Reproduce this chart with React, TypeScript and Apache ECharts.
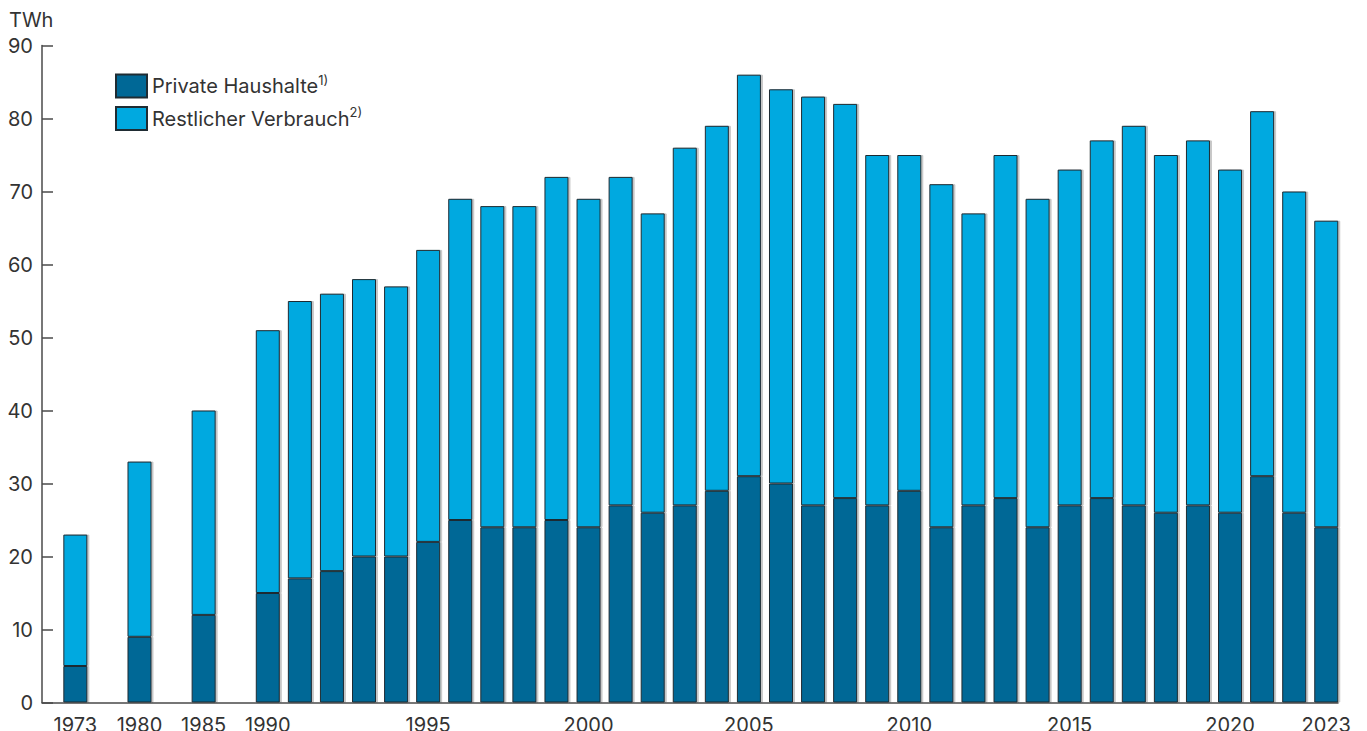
import React, { useEffect, useRef } from "react";
import * as echarts from "echarts";

// Stromverbrauch in TWh: private Haushalte und restlicher Verbrauch
const years = [
  "1973", "1980", "1985",
  "1990", "1991", "1992", "1993", "1994", "1995", "1996", "1997", "1998", "1999",
  "2000", "2001", "2002", "2003", "2004", "2005", "2006", "2007", "2008", "2009",
  "2010", "2011", "2012", "2013", "2014", "2015", "2016", "2017", "2018", "2019",
  "2020", "2021", "2022", "2023",
];
const privateHouseholds = [
  5, 9, 12,
  15, 17, 18, 20, 20, 22, 25, 24, 24, 25,
  24, 27, 26, 27, 29, 31, 30, 27, 28, 27,
  29, 24, 27, 28, 24, 27, 28, 27, 26, 27,
  26, 31, 26, 24,
];
const remainingConsumption = [
  18, 24, 28,
  36, 38, 38, 38, 37, 40, 44, 44, 44, 47,
  45, 45, 41, 49, 50, 55, 54, 56, 54, 48,
  46, 47, 40, 47, 45, 46, 49, 52, 49, 50,
  47, 50, 44, 42,
];
// the early years lie several years apart: an empty slot follows each of them
const spacedYears = ["1973", "1980", "1985"];
const xTickLabels = ["1973", "1980", "1985", "1990", "1995", "2000", "2005", "2010", "2015", "2020", "2023"];
const yTicks = { min: 0, max: 90, interval: 10 };
const seriesNames = ["Private Haushalte", "Restlicher Verbrauch"];
const footnotes = ["1)", "2)"];

const FONT = "Inter, 'Noto Sans', sans-serif";
const FS = 20;
const TEXT = "#333333";
const AXIS = "#4a4a4a";
const DARK = "#006896";
const LIGHT = "#00a9e0";

function buildSlots() {
  const categories: string[] = [];
  const priv: (number | null)[] = [];
  const rest: (number | null)[] = [];
  years.forEach((y, i) => {
    categories.push(y);
    priv.push(privateHouseholds[i]);
    rest.push(remainingConsumption[i]);
    if (spacedYears.includes(y)) {
      categories.push("gap-" + y);
      priv.push(null);
      rest.push(null);
    }
  });
  return { categories, priv, rest };
}

export default function App() {
  const ref = useRef<HTMLDivElement>(null);

  useEffect(() => {
    if (!ref.current) return;
    const chart = echarts.init(ref.current, undefined, { renderer: "svg" });
    const { categories, priv, rest } = buildSlots();

    const barStyle = (color: string) => ({
      color,
      borderColor: "#1f2c33",
      borderWidth: 1,
      shadowColor: "rgba(0,0,0,0.22)",
      shadowOffsetX: 2,
      shadowOffsetY: 0,
      shadowBlur: 0,
    });

    chart.setOption({
      animation: false,
      backgroundColor: "#ffffff",
      textStyle: { fontFamily: FONT, color: TEXT },
      title: {
        text: "TWh",
        left: 4,
        top: 5,
        textStyle: { fontFamily: FONT, fontSize: FS, fontWeight: "normal", color: TEXT },
      },
      legend: {
        data: seriesNames,
        orient: "vertical",
        left: 110,
        top: 68,
        itemWidth: 31,
        itemHeight: 23,
        itemGap: 7,
        icon: "rect",
        formatter: (name: string) => `{t|${name}}{s|${footnotes[seriesNames.indexOf(name)]}}`,
        textStyle: {
          fontFamily: FONT,
          color: TEXT,
          padding: [0, 0, 0, 0],
          rich: {
            t: { fontFamily: FONT, fontSize: FS, color: TEXT, lineHeight: 26 },
            s: { fontFamily: FONT, fontSize: 13, color: TEXT, lineHeight: 14, verticalAlign: "top" },
          },
        },
      },
      grid: [
        { left: 59.3, right: 24.7, top: 45.5, bottom: 28.5, outerBoundsMode: "none", containLabel: false },
        { left: 42, right: 29, top: 45.5, bottom: 28.5, outerBoundsMode: "none", containLabel: false },
      ],
      xAxis: [
        {
          type: "category",
          gridIndex: 0,
          data: categories,
          boundaryGap: true,
          axisLine: { show: false },
          axisTick: { show: false },
          axisLabel: {
            interval: 0,
            margin: 12.5,
            fontFamily: FONT,
            fontSize: FS,
            color: TEXT,
            hideOverlap: false,
            formatter: (v: string) => (xTickLabels.includes(v) ? v : ""),
          },
        },
        {
          type: "value",
          gridIndex: 1,
          min: 0,
          max: 1,
          axisLine: { show: true, lineStyle: { color: AXIS, width: 1.5 } },
          axisTick: { show: false },
          axisLabel: { show: false },
          splitLine: { show: false },
        },
      ],
      yAxis: [
        {
          type: "value",
          gridIndex: 0,
          ...yTicks,
          show: false,
          splitLine: { show: false },
        },
        {
          type: "value",
          gridIndex: 1,
          ...yTicks,
          axisLine: { show: true, lineStyle: { color: AXIS, width: 1.5 } },
          axisTick: { show: true, inside: true, length: 11, lineStyle: { color: AXIS, width: 1.5 } },
          axisLabel: { margin: 9, fontFamily: FONT, fontSize: FS, color: TEXT },
          splitLine: { show: false },
        },
      ],
      series: [
        {
          name: seriesNames[0],
          type: "bar",
          stack: "total",
          xAxisIndex: 0,
          yAxisIndex: 0,
          barWidth: 24,
          data: priv,
          itemStyle: barStyle(DARK),
        },
        {
          name: seriesNames[1],
          type: "bar",
          stack: "total",
          xAxisIndex: 0,
          yAxisIndex: 0,
          barWidth: 24,
          data: rest,
          itemStyle: barStyle(LIGHT),
        },
      ],
    });

    return () => chart.dispose();
  }, []);

  return (
    <div
      ref={ref}
      style={{ position: "absolute", left: 0, top: 0, width: 1367, height: 731, background: "#fff" }}
    />
  );
}
